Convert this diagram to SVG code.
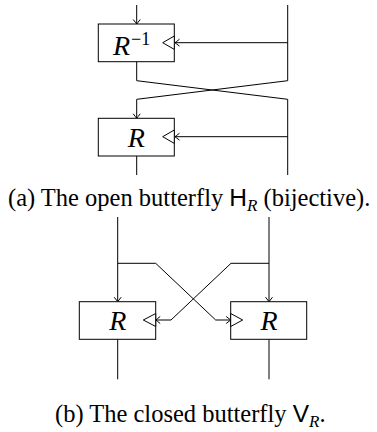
<svg xmlns="http://www.w3.org/2000/svg" width="377" height="432" viewBox="0 0 377 432">
<defs>
<marker id="arr" markerUnits="userSpaceOnUse" viewBox="-6 -5 8 10" markerWidth="8" markerHeight="10" refX="0" refY="0" orient="auto" overflow="visible">
<path d="M-4.5,-3.5 Q-1.2,-0.9 0,0 Q-1.2,0.9 -4.5,3.5" fill="none" stroke="#000" stroke-width="1"/>
</marker>
</defs>
<style>
.ln{fill:none;stroke:#000;stroke-width:1}
.box{fill:#fff;stroke:#000;stroke-width:1}
.tri{fill:#fff;stroke:#000;stroke-width:1}
.lbl{font-family:"Liberation Serif","DejaVu Serif",serif;font-style:italic;font-size:28px;fill:#000}
.cap{font-family:"Liberation Serif","DejaVu Serif",serif;font-size:24.5px;fill:#000}
.sf{font-family:"Liberation Sans","DejaVu Sans",sans-serif}
.it{font-style:italic}
</style>
<g id="connectors">
<!-- top diagram -->
<line class="ln" x1="136.7" y1="5" x2="136.7" y2="24" marker-end="url(#arr)"/>
<line class="ln" x1="287.7" y1="42.7" x2="175" y2="42.7" marker-end="url(#arr)"/>
<polyline class="ln" points="287.7,5 287.7,80.7 136.7,99.3 136.7,118.3" marker-end="url(#arr)"/>
<polyline class="ln" points="136.7,61.7 136.7,80.7 287.7,99.3 287.7,175"/>
<line class="ln" x1="287.7" y1="136.7" x2="175" y2="136.7" marker-end="url(#arr)"/>
<line class="ln" x1="136.7" y1="156" x2="136.7" y2="175"/>
<!-- bottom diagram -->
<line class="ln" x1="117.7" y1="217" x2="117.7" y2="301.7" marker-end="url(#arr)"/>
<line class="ln" x1="269" y1="217" x2="269" y2="301.7" marker-end="url(#arr)"/>
<polyline class="ln" points="117.7,263.3 155.7,263.3 215.7,320 230.7,320" marker-end="url(#arr)"/>
<polyline class="ln" points="269,263.3 231,263.3 171,320 155.7,320" marker-end="url(#arr)"/>
<line class="ln" x1="117.7" y1="339.3" x2="117.7" y2="379.3"/>
<line class="ln" x1="269" y1="339.3" x2="269" y2="379.3"/>
</g>
<g id="node-rinv">
<rect class="box" x="98.3" y="24" width="76" height="37.7"/>
<polygon class="tri" points="174.3,36 162.7,42.7 174.3,49.4"/>
<text class="lbl" x="113" y="54.5">R<tspan font-style="normal" font-size="18" dx="1" dy="-10">−1</tspan></text>
</g>
<g id="node-r-top">
<rect class="box" x="98.3" y="118.3" width="76" height="37.7"/>
<polygon class="tri" points="174.3,130 162.7,136.7 174.3,143.4"/>
<text class="lbl" x="136.3" y="146.5" text-anchor="middle">R</text>
</g>
<g id="caption-a">
<text class="cap" x="8" y="206">(a) The open butterfly <tspan class="sf">H</tspan><tspan class="it" font-size="17" dy="5">R</tspan><tspan dy="-5"> (bijective).</tspan></text>
</g>
<g id="node-r-left">
<rect class="box" x="79.3" y="301.7" width="76.4" height="37.6"/>
<polygon class="tri" points="155.7,313.5 143.3,320 155.7,326.5"/>
<text class="lbl" x="117.7" y="330" text-anchor="middle">R</text>
</g>
<g id="node-r-right">
<rect class="box" x="230.7" y="301.7" width="76" height="37.6"/>
<polygon class="tri" points="230.7,313.5 242.7,320 230.7,326.5"/>
<text class="lbl" x="269" y="330" text-anchor="middle">R</text>
</g>
<g id="caption-b">
<text class="cap" x="55" y="422">(b) The closed butterfly <tspan class="sf">V</tspan><tspan class="it" font-size="17" dy="5">R</tspan><tspan dy="-5">.</tspan></text>
</g>
</svg>
